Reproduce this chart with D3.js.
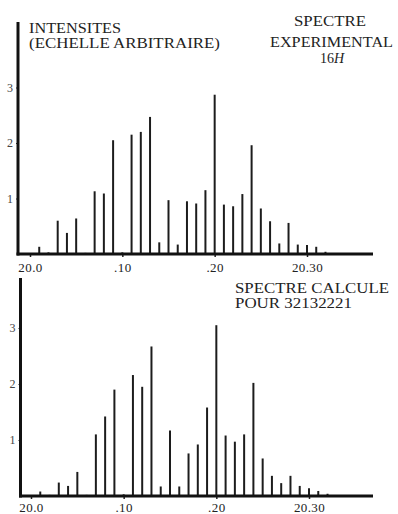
<!DOCTYPE html>
<html>
<head>
<meta charset="utf-8">
<script src="https://cdn.jsdelivr.net/npm/d3@7"></script>
<style>
  body { margin: 0; background: #fff; }
  svg text { font-family: "Liberation Serif", "DejaVu Serif", serif; fill: #222; }
</style>
</head>
<body>
<svg id="chart" width="398" height="514"></svg>
<script>
// line positions, one per spike
const positions = [20.00, 20.01, 20.02, 20.03, 20.04, 20.05, 20.06, 20.07, 20.08, 20.09,
                   20.10, 20.11, 20.12, 20.13, 20.14, 20.15, 20.16, 20.17, 20.18, 20.19,
                   20.20, 20.21, 20.22, 20.23, 20.24, 20.25, 20.26, 20.27, 20.28, 20.29,
                   20.30, 20.31, 20.32];

const experimental = [0.02, 0.13, 0.03, 0.60, 0.38, 0.64, 0.02, 1.13, 1.09, 2.05,
                      0.03, 2.15, 2.20, 2.47, 0.21, 0.97, 0.17, 0.95, 0.91, 1.15,
                      2.87, 0.89, 0.86, 1.08, 1.96, 0.82, 0.59, 0.19, 0.56, 0.17,
                      0.16, 0.13, 0.04];

const calculated = [0.01, 0.08, 0.02, 0.24, 0.18, 0.43, 0.02, 1.10, 1.42, 1.90,
                    0.03, 2.16, 1.95, 2.67, 0.17, 1.17, 0.17, 0.76, 0.92, 1.58,
                    3.05, 1.08, 0.97, 1.10, 2.02, 0.67, 0.36, 0.23, 0.36, 0.18,
                    0.14, 0.09, 0.04];

const yTicks = [1, 2, 3];
const xTicks = [20.00, 20.10, 20.20, 20.30];
const xTickLabels = ['20.0', '.10', '.20', '20.30'];

const svg = d3.select('#chart');

const panels = [
  { values: experimental, left: 18, top: 22, base: 254, right: 373, x0: 30, x30: 307, unit: 55.5, pad: 6 },
  { values: calculated, left: 20.5, top: 278, base: 496, right: 373, x0: 31, x30: 309, unit: 56, pad: 3.5 }
];

panels.forEach(p => {
  let x = d3.scaleLinear().domain([20.00, 20.30]).range([p.x0, p.x30]);
  let y = d3.scaleLinear().domain([0, 3]).range([p.base, p.base - 3 * p.unit]);
  let g = svg.append('g');

  // spikes
  g.selectAll('line.spike')
    .data(positions)
    .join('line')
      .attr('class', 'spike')
      .attr('x1', d => x(d))
      .attr('x2', d => x(d))
      .attr('y1', y(0))
      .attr('y2', (d, i) => y(p.values[i]))
      .attr('stroke', '#1c1c1c')
      .attr('stroke-width', 2);

  // axes (ticks + labels from d3, heavy lines drawn separately)
  let ya = g.append('g')
    .attr('transform', `translate(${p.left},0)`)
    .call(d3.axisLeft(y).tickValues(yTicks).tickSize(2).tickPadding(3).tickFormat(d3.format('d')));
  ya.select('.domain').remove();
  ya.selectAll('text').style('font-size', '12px').style('fill', '#444');
  ya.selectAll('line').attr('stroke', '#333');

  let xa = g.append('g')
    .attr('transform', `translate(0,${p.base})`)
    .call(d3.axisBottom(x).tickValues(xTicks).tickSize(3).tickPadding(p.pad)
      .tickFormat((d, i) => xTickLabels[i]));
  xa.select('.domain').remove();
  xa.selectAll('text').style('font-size', '13px').style('letter-spacing', '0.4px');
  xa.selectAll('line').attr('stroke', '#222').attr('stroke-width', 1.5);

  g.append('line')
    .attr('x1', p.left).attr('x2', p.left)
    .attr('y1', p.top).attr('y2', p.base + 1.5)
    .attr('stroke', '#111').attr('stroke-width', 3);
  g.append('line')
    .attr('x1', p.left - 1.5).attr('x2', p.right)
    .attr('y1', p.base).attr('y2', p.base)
    .attr('stroke', '#111').attr('stroke-width', 3);
});

// captions
function caption(txt, x, y, len, anchor) {
  return svg.append('text')
    .attr('x', x).attr('y', y)
    .attr('text-anchor', anchor || 'start')
    .attr('textLength', len)
    .attr('lengthAdjust', 'spacingAndGlyphs')
    .style('font-size', '14px')
    .text(txt);
}

caption('INTENSITES', 29, 33, 92);
caption('(ECHELLE ARBITRAIRE)', 29, 48, 191);
caption('SPECTRE', 330, 26, 72, 'middle');
caption('EXPERIMENTAL', 331.5, 47, 123, 'middle');
let t16 = svg.append('text')
  .attr('x', 332).attr('y', 63)
  .attr('text-anchor', 'middle')
  .style('font-size', '14px');
t16.append('tspan').text('16');
t16.append('tspan').style('font-style', 'italic').text('H');

caption('SPECTRE CALCULE', 235, 293, 154);
caption('POUR 32132221', 235, 308, 117);
</script>
</body>
</html>
